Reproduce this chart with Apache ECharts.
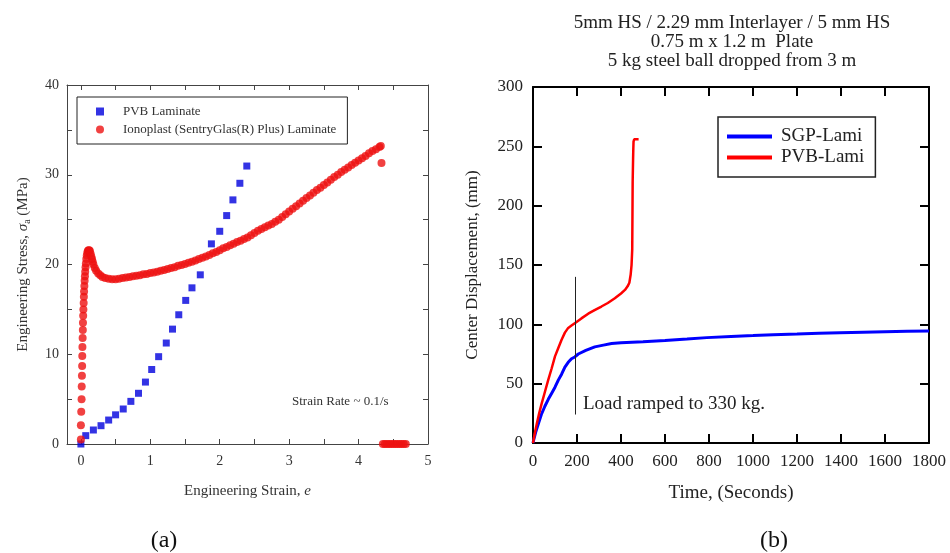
<!DOCTYPE html>
<html>
<head>
<meta charset="utf-8">
<script src="https://cdn.jsdelivr.net/npm/echarts@6/dist/echarts.min.js"></script>
<style>
  html, body { margin: 0; padding: 0; background: #fff; }
  #main { width: 950px; height: 553px; }
</style>
</head>
<body>
<div id="main"></div>
<script>
// (a) tensile test
var strainTicks = [0, 0.5, 1, 1.5, 2, 2.5, 3, 3.5, 4, 4.5, 5];
var strainLabels = [0, 1, 2, 3, 4, 5];

var pvbStrain = [0, 0.07, 0.18, 0.29, 0.40, 0.50, 0.61, 0.72, 0.83, 0.93, 1.02, 1.12, 1.23, 1.32, 1.41, 1.51, 1.60, 1.72, 1.88, 2.00, 2.10, 2.19, 2.29, 2.39];
var pvbStress = [0, 0.93, 1.56, 2.04, 2.67, 3.25, 3.9, 4.75, 5.65, 6.9, 8.3, 9.73, 11.25, 12.8, 14.4, 16.0, 17.4, 18.85, 22.3, 23.7, 25.45, 27.2, 29.05, 30.97];

var ionoStrain = [0, 0, 0.005, 0.01, 0.012, 0.015, 0.018, 0.02, 0.022, 0.025, 0.028, 0.03, 0.033, 0.036, 0.04, 0.043, 0.046, 0.05, 0.054, 0.058, 0.062, 0.067, 0.072, 0.078, 0.085, 0.093, 0.10, 0.11, 0.12, 0.13, 0.14, 0.15, 0.16, 0.17, 0.18, 0.20, 0.22, 0.25, 0.28, 0.31, 0.35, 0.40, 0.45, 0.50, 0.55, 0.60, 0.65, 0.70, 0.75, 0.80, 0.85, 0.90, 0.95, 1.00, 1.05, 1.10, 1.15, 1.20, 1.25, 1.30, 1.35, 1.40, 1.45, 1.50, 1.55, 1.60, 1.65, 1.70, 1.75, 1.80, 1.85, 1.90, 1.95, 2.00, 2.05, 2.10, 2.15, 2.20, 2.25, 2.30, 2.35, 2.40, 2.45, 2.50, 2.55, 2.60, 2.65, 2.70, 2.75, 2.80, 2.85, 2.90, 2.95, 3.00, 3.05, 3.10, 3.15, 3.20, 3.25, 3.30, 3.35, 3.40, 3.45, 3.50, 3.55, 3.60, 3.65, 3.70, 3.75, 3.80, 3.85, 3.90, 3.95, 4.00, 4.05, 4.10, 4.15, 4.20, 4.25, 4.30, 4.32, 4.33, 4.35, 4.38, 4.41, 4.44, 4.47, 4.50, 4.53, 4.56, 4.59, 4.62, 4.65, 4.68];
var ionoStress = [0.5, 2.1, 3.6, 5.0, 6.4, 7.6, 8.7, 9.8, 10.8, 11.8, 12.7, 13.5, 14.3, 15.0, 15.7, 16.4, 17.0, 17.6, 18.2, 18.7, 19.2, 19.7, 20.1, 20.6, 21.0, 21.3, 21.5, 21.6, 21.6, 21.5, 21.2, 20.9, 20.6, 20.3, 20.0, 19.6, 19.3, 19.0, 18.8, 18.6, 18.5, 18.4, 18.35, 18.35, 18.4, 18.5, 18.55, 18.6, 18.7, 18.75, 18.8, 18.9, 18.95, 19.05, 19.1, 19.2, 19.3, 19.4, 19.5, 19.6, 19.7, 19.85, 19.95, 20.05, 20.2, 20.3, 20.45, 20.6, 20.75, 20.9, 21.05, 21.25, 21.4, 21.6, 21.8, 21.95, 22.15, 22.3, 22.5, 22.65, 22.85, 23.0, 23.25, 23.5, 23.75, 23.95, 24.15, 24.35, 24.5, 24.75, 25.0, 25.3, 25.6, 25.9, 26.2, 26.5, 26.8, 27.1, 27.4, 27.7, 28.0, 28.3, 28.55, 28.85, 29.15, 29.45, 29.75, 30.0, 30.3, 30.55, 30.8, 31.1, 31.35, 31.6, 31.85, 32.1, 32.4, 32.65, 32.85, 33.1, 33.2, 31.3, 0, 0, 0, 0, 0, 0, 0, 0, 0, 0, 0, 0];

// (b) drop test
var title2 = ['5mm HS / 2.29 mm Interlayer / 5 mm HS', '0.75 m x 1.2 m  Plate', '5 kg steel ball dropped from 3 m'];
var sgpTime = [0, 5, 12, 24, 38, 54, 70, 85, 100, 115, 130, 145, 160, 175, 190, 206, 240, 281, 320, 357, 400, 450, 500, 600, 700, 790, 900, 1000, 1092, 1200, 1300, 1395, 1500, 1600, 1700, 1800];
var sgpDisp = [0, 4, 9, 16, 24, 31, 37, 42, 47, 53, 58, 64, 68, 71, 72.5, 75, 78, 81, 82.5, 83.8, 84.5, 85, 85.4, 86.3, 87.6, 88.8, 89.8, 90.5, 91.2, 91.8, 92.4, 92.9, 93.4, 93.8, 94.1, 94.3];
var pvbTime = [0, 8, 17, 28, 39, 54, 69, 85, 100, 115, 130, 145, 160, 175, 190, 220, 251, 280, 311, 340, 372, 400, 418, 430, 438, 444, 448, 451, 452, 453, 455, 456, 457, 460, 470, 480];
var pvbDisp = [0, 8, 16, 25, 33, 43, 53, 63, 73, 80, 87, 93, 97, 99, 101, 105, 109, 112, 115, 118, 122, 126, 129, 132, 135, 142, 150, 163, 190, 220, 240, 248, 254, 256, 256, 256];
var rampTime = 190, rampFrom = 24, rampTo = 140;

function zip(xs, ys) {
  return xs.map(function (x, i) { return [x, ys[i]]; });
}

var serif = 'Liberation Serif';
var gray = '#333';
var plain = function (v) { return String(v); };

function mirrorAxis(extra) {
  return Object.assign({
    axisLabel: { show: false },
    splitLine: { show: false }
  }, extra);
}

var chart = echarts.init(document.getElementById('main'));
chart.setOption({
  animation: false,
  title: [
    { text: title2.join('\n'), left: 732, top: 14, textAlign: 'center', padding: 0,
      textStyle: { fontFamily: serif, fontSize: 19, fontWeight: 'normal', color: '#222', lineHeight: 19 } },
    { text: '(a)', left: 164, top: 529, textAlign: 'center', padding: 0,
      textStyle: { fontFamily: serif, fontSize: 24, fontWeight: 'normal', color: '#111' } },
    { text: '(b)', left: 774, top: 529, textAlign: 'center', padding: 0,
      textStyle: { fontFamily: serif, fontSize: 24, fontWeight: 'normal', color: '#111' } },
    { text: 'Strain Rate ~ 0.1/s', left: 292, top: 395, padding: 0,
      textStyle: { fontFamily: serif, fontSize: 13, fontWeight: 'normal', color: gray } },
    { text: 'Load ramped to 330 kg.', left: 583, top: 395, padding: 0,
      textStyle: { fontFamily: serif, fontSize: 19, fontWeight: 'normal', color: '#222' } }
  ],
  legend: [
    { data: ['PVB Laminate', 'Ionoplast (SentryGlas(R) Plus) Laminate'],
      orient: 'vertical', left: 77, top: 97,
      borderColor: '#222', borderWidth: 1, padding: [8, 11, 8, 19],
      itemGap: 5, itemWidth: 8, itemHeight: 8,
      textStyle: { fontFamily: serif, fontSize: 13, color: gray, padding: [0, 0, 0, 14] } },
    { data: ['SGP-Lami', 'PVB-Lami'],
      orient: 'vertical', left: 718, top: 117, icon: 'rect',
      borderColor: '#222', borderWidth: 1.5, padding: [9, 11, 9, 9],
      itemGap: 0, itemWidth: 45, itemHeight: 4,
      textStyle: { fontFamily: serif, fontSize: 19, color: '#222', padding: [0, 0, 0, 4], lineHeight: 21 } }
  ],
  grid: [
    { left: 67, top: 85, width: 361, height: 359 },
    { left: 533, top: 87, width: 396, height: 356 }
  ],
  xAxis: [
    { gridIndex: 0, type: 'value', min: -0.2, max: 5,
      name: 'Engineering Strain, {i|e}', nameLocation: 'middle', nameGap: 40,
      nameTextStyle: { fontFamily: serif, fontSize: 15, color: gray,
        rich: { i: { fontFamily: serif, fontSize: 15, fontStyle: 'italic', color: gray } } },
      axisLine: { onZero: false, lineStyle: { color: '#444', width: 1 } },
      axisTick: { inside: true, length: 5, customValues: strainTicks, lineStyle: { color: '#444' } },
      axisLabel: { customValues: strainLabels, margin: 10, fontFamily: serif, fontSize: 14, color: gray },
      splitLine: { show: false } },
    mirrorAxis({ gridIndex: 0, type: 'value', position: 'top', min: -0.2, max: 5,
      axisLine: { show: true, onZero: false, lineStyle: { color: '#444', width: 1 } },
      axisTick: { show: true, inside: true, length: 5, customValues: strainTicks, lineStyle: { color: '#444' } } }),
    { gridIndex: 1, type: 'value', min: 0, max: 1800, interval: 200,
      name: 'Time, (Seconds)', nameLocation: 'middle', nameGap: 41,
      nameTextStyle: { fontFamily: serif, fontSize: 19, color: '#222' },
      axisLine: { onZero: false, lineStyle: { color: '#000', width: 2 } },
      axisTick: { inside: true, length: 9, lineStyle: { color: '#000', width: 2 } },
      axisLabel: { margin: 10, fontFamily: serif, fontSize: 17, color: '#222', formatter: plain },
      splitLine: { show: false } },
    mirrorAxis({ gridIndex: 1, type: 'value', position: 'top', min: 0, max: 1800, interval: 200,
      axisLine: { show: true, onZero: false, lineStyle: { color: '#000', width: 2 } },
      axisTick: { show: true, inside: true, length: 9, lineStyle: { color: '#000', width: 2 } } })
  ],
  yAxis: [
    { gridIndex: 0, type: 'value', min: 0, max: 40, interval: 10,
      name: 'Engineering Stress, {i|σ}{s|a} (MPa)', nameLocation: 'middle', nameGap: 35,
      nameTextStyle: { fontFamily: serif, fontSize: 15, color: gray,
        rich: { i: { fontFamily: serif, fontSize: 15, fontStyle: 'italic', color: gray },
                s: { fontFamily: serif, fontSize: 10, color: gray, padding: [8, 0, 0, 0] } } },
      axisLine: { onZero: false, lineStyle: { color: '#444', width: 1 } },
      axisTick: { inside: true, length: 5, lineStyle: { color: '#444' } },
      minorTick: { show: true, splitNumber: 2, length: 5, lineStyle: { color: '#444' } },
      axisLabel: { margin: 8, fontFamily: serif, fontSize: 14, color: gray },
      splitLine: { show: false } },
    mirrorAxis({ gridIndex: 0, type: 'value', position: 'right', min: 0, max: 40, interval: 10,
      axisLine: { show: true, onZero: false, lineStyle: { color: '#444', width: 1 } },
      axisTick: { show: true, inside: true, length: 5, lineStyle: { color: '#444' } },
      minorTick: { show: true, splitNumber: 2, length: 5, lineStyle: { color: '#444' } } }),
    { gridIndex: 1, type: 'value', min: 0, max: 300, interval: 50,
      name: 'Center Displacement, (mm)', nameLocation: 'middle', nameGap: 52,
      nameTextStyle: { fontFamily: serif, fontSize: 17, color: '#222' },
      axisLine: { onZero: false, lineStyle: { color: '#000', width: 2 } },
      axisTick: { inside: true, length: 9, lineStyle: { color: '#000', width: 2 } },
      axisLabel: { margin: 10, fontFamily: serif, fontSize: 17, color: '#222' },
      splitLine: { show: false } },
    mirrorAxis({ gridIndex: 1, type: 'value', position: 'right', min: 0, max: 300, interval: 50,
      axisLine: { show: true, onZero: false, lineStyle: { color: '#000', width: 2 } },
      axisTick: { show: true, inside: true, length: 9, lineStyle: { color: '#000', width: 2 } } })
  ],
  series: [
    { name: 'PVB Laminate', type: 'scatter', xAxisIndex: 0, yAxisIndex: 0,
      symbol: 'rect', symbolSize: 7, itemStyle: { color: '#0000dd' },
      data: zip(pvbStrain, pvbStress) },
    { name: 'Ionoplast (SentryGlas(R) Plus) Laminate', type: 'scatter', xAxisIndex: 0, yAxisIndex: 0,
      symbol: 'circle', symbolSize: 8, itemStyle: { color: '#ee1111' },
      data: zip(ionoStrain, ionoStress) },
    { name: 'SGP-Lami', type: 'line', xAxisIndex: 2, yAxisIndex: 2,
      symbol: 'none', lineStyle: { color: '#0000ff', width: 3 }, itemStyle: { color: '#0000ff' },
      data: zip(sgpTime, sgpDisp),
      markLine: { silent: true, symbol: 'none', label: { show: false },
        lineStyle: { color: '#222', width: 1, type: 'solid' },
        data: [[{ coord: [rampTime, rampFrom] }, { coord: [rampTime, rampTo] }]] } },
    { name: 'PVB-Lami', type: 'line', xAxisIndex: 2, yAxisIndex: 2,
      symbol: 'none', lineStyle: { color: '#ff0000', width: 2.5 }, itemStyle: { color: '#ff0000' },
      data: zip(pvbTime, pvbDisp) }
  ]
});
</script>
</body>
</html>
